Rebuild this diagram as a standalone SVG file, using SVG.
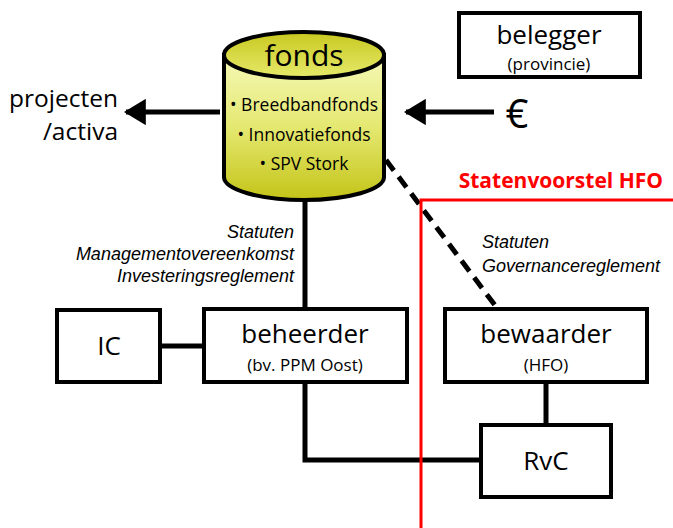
<svg xmlns="http://www.w3.org/2000/svg" width="673" height="528" viewBox="0 0 673 528">
<defs>
<linearGradient id="body" x1="0" y1="0" x2="0" y2="1">
<stop offset="0" stop-color="#f6f8b8"/>
<stop offset="0.5" stop-color="#e4e870"/>
<stop offset="1" stop-color="#c4c418"/>
</linearGradient>
<linearGradient id="top" x1="0" y1="0" x2="0" y2="1">
<stop offset="0" stop-color="#c8c820"/>
<stop offset="1" stop-color="#e6ea6a"/>
</linearGradient>
<marker id="ah" viewBox="0 0 10 12" refX="9" refY="6" markerWidth="4.4" markerHeight="5.3" orient="auto" markerUnits="strokeWidth">
<path d="M0,0 L10,6 L0,12 Z" fill="#000"/>
</marker>
</defs>
<style>
text{font-family:"Open Sans","Noto Sans",sans-serif;fill:#000}
.box{fill:#fff;stroke:#000;stroke-width:4}
.big{font-size:26px;text-anchor:middle}
.sub{font-size:17px;text-anchor:middle}
.lbl{font-family:"Liberation Sans",Arial,sans-serif;font-size:18px;font-style:italic}
.con{fill:none;stroke:#000;stroke-width:5}
</style>
<g id="connectors">
<line class="con" x1="305" y1="200" x2="305" y2="309"/>
<line class="con" x1="160" y1="346" x2="204" y2="346"/>
<polyline class="con" points="305,382 305,460 481,460"/>
<line class="con" x1="546" y1="382" x2="546" y2="425"/>
<line class="con" x1="386" y1="160" x2="497" y2="308" stroke-dasharray="13,8"/>
<line class="con" x1="220" y1="112" x2="126" y2="112" marker-end="url(#ah)"/>
<line class="con" x1="494" y1="112" x2="406" y2="112" marker-end="url(#ah)"/>
</g>
<g id="hfo-boundary">
<polyline points="421,528 421,200 673,200" fill="none" stroke="#ff0000" stroke-width="3"/>
<text x="663" y="188" text-anchor="end" font-size="21" font-weight="bold" style="fill:#ff0000">Statenvoorstel HFO</text>
</g>
<g id="fonds">
<path d="M224,55 L224,177 A80,23 0 0 0 384,177 L384,55 Z" fill="url(#body)" stroke="#000" stroke-width="4"/>
<ellipse cx="304" cy="55" rx="80" ry="23" fill="url(#top)" stroke="#000" stroke-width="4"/>
<text x="304" y="66" font-size="30" text-anchor="middle">fonds</text>
<text x="304" y="111" font-size="17.5" text-anchor="middle">• Breedbandfonds</text>
<text x="304" y="141" font-size="17.5" text-anchor="middle">• Innovatiefonds</text>
<text x="304" y="170" font-size="17.5" text-anchor="middle">• SPV Stork</text>
</g>
<g id="belegger">
<rect class="box" x="459" y="13" width="181" height="64"/>
<text class="big" x="549" y="44">belegger</text>
<text class="sub" x="549" y="70">(provincie)</text>
</g>
<g id="euro">
<text x="517" y="128" font-size="40" text-anchor="middle">€</text>
</g>
<g id="projecten">
<text x="118" y="107" font-size="24.5" text-anchor="end">projecten</text>
<text x="118" y="140" font-size="24.5" text-anchor="end">/activa</text>
</g>
<g id="label-beheerder">
<text class="lbl" x="294" y="238" text-anchor="end">Statuten</text>
<text class="lbl" x="294" y="260" text-anchor="end">Managementovereenkomst</text>
<text class="lbl" x="294" y="282" text-anchor="end">Investeringsreglement</text>
</g>
<g id="label-bewaarder">
<text class="lbl" x="482" y="248">Statuten</text>
<text class="lbl" x="482" y="272">Governancereglement</text>
</g>
<g id="IC">
<rect class="box" x="57" y="310" width="103" height="72"/>
<text class="big" x="109" y="355">IC</text>
</g>
<g id="beheerder">
<rect class="box" x="204" y="309" width="203" height="73"/>
<text class="big" x="305" y="343">beheerder</text>
<text class="sub" x="305" y="371">(bv. PPM Oost)</text>
</g>
<g id="bewaarder">
<rect class="box" x="445" y="309" width="202" height="73"/>
<text class="big" x="546" y="343">bewaarder</text>
<text class="sub" x="546" y="371">(HFO)</text>
</g>
<g id="RvC">
<rect class="box" x="481" y="425" width="130" height="72"/>
<text class="big" x="546" y="470">RvC</text>
</g>
</svg>
